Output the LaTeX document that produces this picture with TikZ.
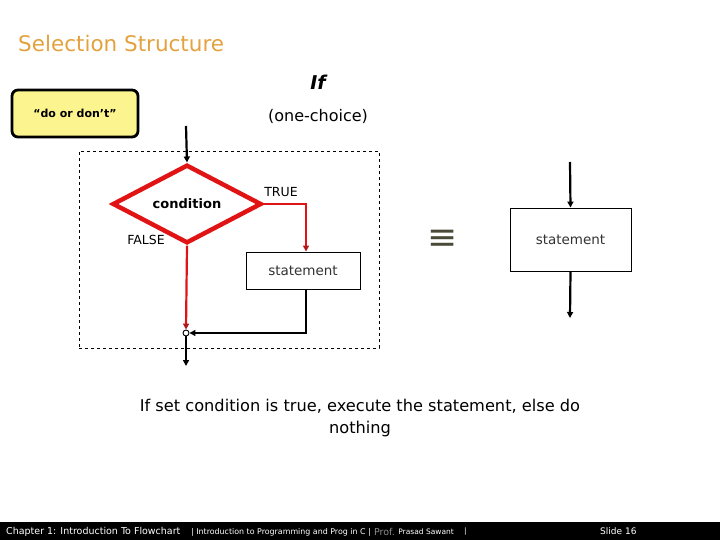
\documentclass[tikz,border=0pt]{standalone}
\usepackage{fontspec}
\setmainfont{DejaVu Sans}
\usetikzlibrary{arrows.meta,positioning,shapes.geometric}
\definecolor{ttlcol}{HTML}{E3A23F}
\definecolor{flowred}{HTML}{E01414}
\definecolor{arrred}{HTML}{B01818}
\definecolor{notefill}{HTML}{FCF48E}
\definecolor{eqcol}{HTML}{4A4A38}
\definecolor{dimtxt}{HTML}{8C8C8C}
\newcommand{\fsz}[1]{\fontsize{#1}{#1}\selectfont}
\tikzset{
  stmtbox/.style={draw=black, line width=0.9pt, fill=white, inner sep=0pt,
                  font=\fsz{13.5}, text=black!80},
  cond/.style   ={diamond, draw=flowred, line width=4.5pt, fill=white, inner sep=0pt,
                  minimum width=149pt, minimum height=60pt, font=\bfseries\fsz{13}},
  joindot/.style={circle, draw=black, line width=0.9pt, fill=white, inner sep=0pt,
                  minimum size=6pt},
  fl/.style     ={draw=black, line width=2.2pt, -{Triangle[length=6pt,width=6pt]}},
  rfl/.style    ={draw=flowred, line width=2.2pt, -{Triangle[length=6pt,width=6pt,color=arrred]}},
  lbl/.style    ={font=\fsz{12.5}, inner sep=1pt},
  note/.style   ={draw=black, line width=2.8pt, fill=notefill, rounded corners=6pt,
                  minimum width=126pt, minimum height=47pt, font=\bfseries\fsz{11}},
  foot/.style   ={text=white, inner sep=0pt, anchor=west},
}
\begin{document}
\begin{tikzpicture}[x=1pt,y=-1pt]
  \useasboundingbox (0,0) rectangle (720,540);
  \node[anchor=west,text=ttlcol,font=\fsz{21.5},inner sep=0pt] (title) at (18,43) {Selection Structure};
  \node[font=\bfseries\itshape\fsz{19}] (ifhead) at (318,82) {If};
  \node[font=\fsz{16}] (choice) at (318,116) {(one-choice)};
  \node[note] (dodont) at (75,113.5) {“do or don’t”};

  \node[draw=black, line width=0.9pt, dashed, minimum width=300pt, minimum height=197pt] (frame) at (229,249.5) {};
  \node[cond] (test) at (187,204) {condition};
  \node[stmtbox, minimum width=114pt, minimum height=37pt] (stmt) at (303,270.5) {statement};
  \node[joindot] (merge) at (186,333) {};
  \coordinate (inl) at (186,126);
  \coordinate (outl) at (186,366);
  \node[lbl] (truel) at (281,192) {TRUE};
  \node[lbl] (falsel) at (146,240) {FALSE};

  \draw[fl] (inl) -- (test.north);
  \draw[rfl] (test.east) -| ([xshift=3pt]stmt.north);
  \draw[rfl] (test.south) -- (merge.north);
  \draw[fl] ([xshift=3pt]stmt.south) |- (merge.east);
  \draw[fl] (merge.south) -- (outl);

  \node[text=eqcol, font=\fsz{36}, inner sep=0pt] (same) at (443,240) {≡};

  \node[stmtbox, minimum width=121pt, minimum height=63pt] (stmtr) at (570.5,239.5) {statement};
  \coordinate (inr) at (570,162);
  \coordinate (outr) at (570,318);
  \draw[fl] (inr) -- (stmtr.north);
  \draw[fl] (stmtr.south) -- (outr);

  \node[font=\fsz{16.2}, align=center] (caption) at (360,418)
    {If set condition is true, execute the statement, else do\\[6pt]nothing};

  \fill[black] (0,522) rectangle (720,540);
  \node[foot, font=\fsz{9.5}] (chap) at (6,531.5) {Chapter 1: Introduction To Flowchart};
  \node[foot, font=\fsz{7.9}] (course) at (191,532) {| Introduction to Programming and Prog in C |};
  \node[foot, font=\fsz{9.5}, text=dimtxt, right=3pt of course] (prof) {Prof.};
  \node[foot, font=\fsz{7.5}, right=3pt of prof] (name) {Prasad Sawant};
  \node[foot, font=\fsz{7.5}, right=10pt of name] (bar) {|};
  \node[foot, font=\fsz{9}] (slide) at (600,531) {Slide 16};
\end{tikzpicture}
\end{document}
